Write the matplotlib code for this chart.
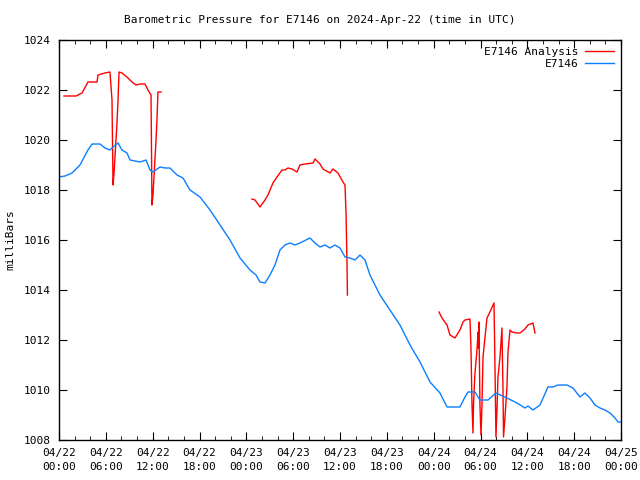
import numpy as np
import matplotlib
matplotlib.use("Agg")
import matplotlib.pyplot as plt
from matplotlib.ticker import MultipleLocator

nan = float("nan")

# hours since 2024-04-22 00:00 UTC
obs_hours = [0.0, 0.77, 1.67, 2.69, 3.71, 4.23, 5.25, 5.89, 6.53, 6.92, 7.56, 8.07, 8.71, 9.1,
             10.38, 11.15, 11.66, 12.04, 12.94, 13.58, 14.22, 15.12, 15.89, 16.78, 18.06, 19.35,
             20.63, 21.91, 23.19, 24.47, 25.24, 25.75, 26.39, 27.03, 27.67, 28.31, 28.95, 29.59,
             30.23, 30.87, 31.64, 32.15, 32.8, 33.44, 34.08, 34.72, 35.36, 36.0, 36.64, 37.28,
             37.92, 38.56, 39.2, 39.84, 41.12, 42.4, 43.68, 44.97, 46.25, 47.53, 48.81, 49.71,
             51.37, 52.01, 52.4, 53.29, 53.93, 54.96, 55.98, 57.39, 58.67, 59.7, 60.08, 60.72,
             61.62, 62.64, 63.28, 63.93, 65.08, 65.85, 66.74, 67.38, 68.03, 68.67, 69.31, 69.95,
             70.59, 71.23, 71.62, 72.0]
obs_mb = [1018.52, 1018.56, 1018.68, 1019.0, 1019.6, 1019.84, 1019.84, 1019.68, 1019.6, 1019.72,
          1019.88, 1019.6, 1019.48, 1019.2, 1019.12, 1019.2, 1018.8, 1018.72, 1018.92, 1018.88,
          1018.88, 1018.6, 1018.48, 1018.0, 1017.72, 1017.2, 1016.6, 1016.0, 1015.28, 1014.8,
          1014.6, 1014.32, 1014.28, 1014.6, 1015.0, 1015.6, 1015.8, 1015.88, 1015.8, 1015.88,
          1016.0, 1016.08, 1015.88, 1015.72, 1015.8, 1015.68, 1015.8, 1015.68, 1015.32, 1015.28,
          1015.2, 1015.4, 1015.2, 1014.6, 1013.8, 1013.2, 1012.6, 1011.8, 1011.12, 1010.32,
          1009.88, 1009.32, 1009.32, 1009.72, 1009.92, 1009.92, 1009.6, 1009.6, 1009.88, 1009.68,
          1009.48, 1009.28, 1009.36, 1009.2, 1009.4, 1010.12, 1010.12, 1010.2, 1010.2, 1010.08,
          1009.72, 1009.88, 1009.68, 1009.4, 1009.28, 1009.2, 1009.08, 1008.88, 1008.72, 1008.72]

ana_hours = [0.64, 2.18, 2.95, 3.71, 4.87, 5.0, 5.89, 6.53, 6.79, 6.92, 7.05, 7.17, 7.43, 7.56,
             7.69, 8.07, 8.84, 9.35, 9.86, 10.38, 11.02, 11.4, 11.79, 11.91, 12.04, 12.43, 12.55,
             12.68, 13.07, nan,
             24.72, 25.11, 25.75, 26.39, 26.77, 27.41, 27.93, 28.57, 28.95, 29.34, 29.85, 30.49,
             30.87, 31.51, 32.54, 32.8, 33.44, 33.82, 34.72, 35.1, 35.74, 36.38, 36.64, 36.77,
             36.9, 36.95, nan,
             48.68, 49.07, 49.71, 50.09, 50.73, 51.37, 51.76, 52.01, 52.65, 52.78, 52.91, 53.04,
             53.1, 53.29, 53.55, 53.68, 53.74, 53.8, 53.93, 54.06, 54.19, 54.32, 54.83, 55.21,
             55.73, 55.86, 55.98, 56.11, 56.24, 56.5, 56.75, 56.88, 56.95, 57.14, 57.39, 57.52,
             57.78, 58.03, 58.67, 59.06, 59.7, 60.08, 60.72, 60.98]
ana_mb = [1021.76, 1021.76, 1021.88, 1022.32, 1022.32, 1022.6, 1022.68, 1022.72, 1021.6, 1018.2,
          1018.68, 1019.32, 1020.68, 1021.6, 1022.72, 1022.68, 1022.48, 1022.32, 1022.2, 1022.24,
          1022.24, 1022.0, 1021.8, 1017.4, 1017.8, 1020.0, 1020.8, 1021.92, 1021.92, nan,
          1017.64, 1017.6, 1017.32, 1017.6, 1017.8, 1018.28, 1018.52, 1018.8, 1018.8, 1018.88,
          1018.84, 1018.72, 1019.0, 1019.04, 1019.08, 1019.24, 1019.04, 1018.84, 1018.68, 1018.84,
          1018.68, 1018.32, 1018.2, 1017.08, 1015.0, 1013.8, nan,
          1013.12, 1012.88, 1012.6, 1012.2, 1012.08, 1012.4, 1012.72, 1012.8, 1012.84, 1011.68,
          1009.4, 1008.28, 1009.4, 1010.68, 1011.6, 1012.32, 1011.68, 1012.72, 1009.4, 1008.2,
          1009.4, 1011.32, 1012.88, 1013.12, 1013.48, 1010.8, 1008.12, 1009.2, 1010.52, 1011.32,
          1012.48, 1010.0, 1008.12, 1008.92, 1010.12, 1011.52, 1012.4, 1012.32, 1012.28, 1012.28,
          1012.44, 1012.6, 1012.68, 1012.28]

tick_hours = list(range(0, 73, 6))
tick_labels = ["04/22\n00:00", "04/22\n06:00", "04/22\n12:00", "04/22\n18:00",
               "04/23\n00:00", "04/23\n06:00", "04/23\n12:00", "04/23\n18:00",
               "04/24\n00:00", "04/24\n06:00", "04/24\n12:00", "04/24\n18:00",
               "04/25\n00:00"]

plt.rcParams["font.family"] = "DejaVu Sans Mono"
plt.rcParams["font.size"] = 8

fig = plt.figure(figsize=(6.4, 4.8), dpi=100)
ax = fig.add_axes([59 / 640, 40 / 480, 562 / 640, 400 / 480])

ax.plot(ana_hours, ana_mb, color="#ff0000", lw=1, label="E7146 Analysis")
ax.plot(obs_hours, obs_mb, color="#0a7fff", lw=1, label="E7146")

ax.set_xlim(0, 72)
ax.set_ylim(1008, 1024)
ax.set_xticks(tick_hours)
ax.set_xticklabels(tick_labels, linespacing=1.5)
ax.xaxis.set_minor_locator(MultipleLocator(2))
ax.set_yticks(np.arange(1008, 1025, 2))
ax.tick_params(which="both", direction="in", top=True, right=True, pad=6)
ax.tick_params(which="major", length=6)
ax.tick_params(which="minor", length=3)
for s in ax.spines.values():
    s.set_linewidth(1)

ax.set_ylabel("milliBars")
ax.yaxis.set_label_coords(-44 / 562, 0.5)
fig.text(0.5, 1 - 20 / 480, "Barometric Pressure for E7146 on 2024-Apr-22 (time in UTC)",
         ha="center", va="center")

ax.legend(loc="upper right", frameon=False, markerfirst=False, handlelength=2.6,
          handletextpad=0.6, borderaxespad=0.25, labelspacing=0.15)

fig.savefig("out.png", dpi=100)
